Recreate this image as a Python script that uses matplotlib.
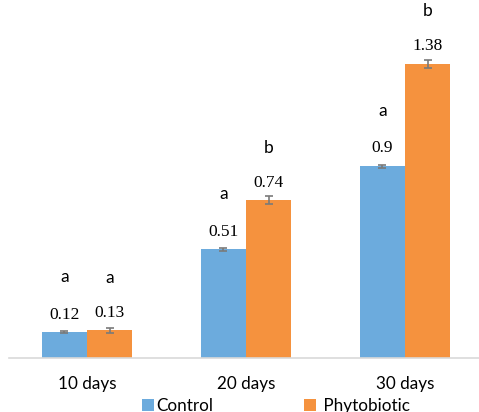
import matplotlib.pyplot as plt
import numpy as np

# Growth data per sampling day
days = ['10 days', '20 days', '30 days']
control = [0.12, 0.51, 0.90]
phytobiotic = [0.13, 0.74, 1.38]
control_err = [0.005, 0.008, 0.008]
phyto_err = [0.012, 0.018, 0.02]
control_letters = ['a', 'a', 'a']
phyto_letters = ['a', 'b', 'b']

blue = '#6CABDD'
orange = '#F5923E'

fig = plt.figure(figsize=(4.79, 4.12), dpi=100)
ax = fig.add_axes([9 / 479, 1 - 358 / 412, 1 - 9 / 479, 358 / 412])

x = np.arange(len(days))
w = 0.285
ekw = dict(ecolor='#7a7a7a', capsize=3, elinewidth=1.2, capthick=1.2)

ax.bar(x - w / 2, control, w, color=blue, label='Control', yerr=control_err, error_kw=ekw)
ax.bar(x + w / 2, phytobiotic, w, color=orange, label=' Phytobiotic', yerr=phyto_err, error_kw=ekw)

# Value labels (serif) and significance letters (sans) above each bar
for xs, vals, letters, let_off in [(x - w / 2, control, control_letters, 40),
                                    (x + w / 2, phytobiotic, phyto_letters, 38)]:
    for xi, v, l in zip(xs, vals, letters):
        ax.annotate(f'{v:g}', (xi, v), xytext=(0, 12.8), textcoords='offset points',
                    ha='center', va='center', fontsize=12.5, family='Liberation Serif')
        ax.annotate(l, (xi, v), xytext=(0, let_off), textcoords='offset points',
                    ha='center', va='center', fontsize=12.5, family='Lato')

ax.set_xlim(-0.49, 2.465)
ax.set_ylim(0, 1.68)
ax.set_xticks(x)
ax.set_xticklabels(days, fontsize=12.3, family='Lato')
ax.tick_params(axis='x', length=0, pad=13)
ax.set_yticks([])
for s in ['top', 'right', 'left']:
    ax.spines[s].set_visible(False)
ax.spines['bottom'].set_color('#d9d9d9')
ax.spines['bottom'].set_linewidth(1.2)

fig.legend(loc='center', bbox_to_anchor=(276 / 479, 1 - 406 / 412), ncol=2,
           frameon=False, handlelength=0.7, handleheight=0.7, handletextpad=0.15,
           columnspacing=5.3, prop={'family': 'Lato', 'size': 12.3}, borderaxespad=0)

fig.savefig('out.png', dpi=100)
